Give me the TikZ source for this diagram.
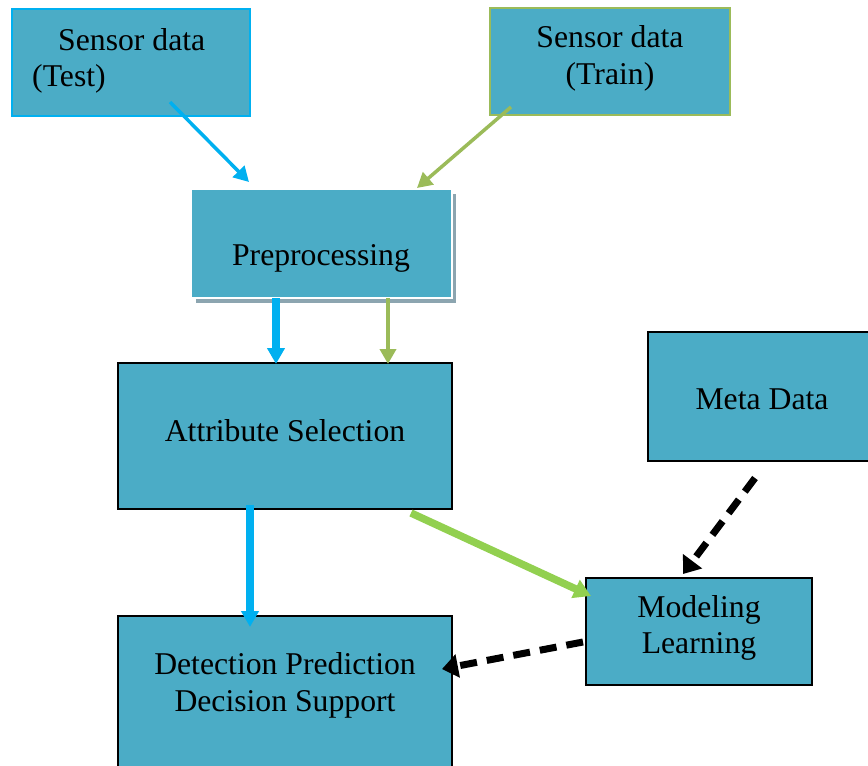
\documentclass[tikz,border=0pt]{standalone}
\usepackage{fontspec}
\setmainfont{Liberation Serif}
\usetikzlibrary{arrows.meta}

\definecolor{boxfill}{RGB}{75,172,198}
\definecolor{skyline}{RGB}{0,176,240}
\definecolor{oliveline}{RGB}{155,187,89}
\definecolor{limeline}{RGB}{146,208,80}
\definecolor{shadowc}{RGB}{140,165,176}

\tikzset{
  box/.style={draw, fill=boxfill, line width=2pt, inner sep=0pt, outer sep=0pt},
  lbl/.style={anchor=base, inner sep=0pt, font=\fontsize{31.7}{36.5}\selectfont},
  lbll/.style={anchor=base west, inner sep=0pt, font=\fontsize{31.7}{36.5}\selectfont},
  thinarrow/.style={line width=3.5pt, -{Triangle[length=15pt,width=16pt]}},
  boldarrow/.style={line width=8pt, -{Triangle[length=16pt,width=17pt]}},
  dasharrow/.style={line width=7pt, black, dash pattern=on 17pt off 10pt,
                    -{Triangle[length=16pt,width=23pt]}},
}

\begin{document}
\begin{tikzpicture}[x=1pt, y=-1pt]
\useasboundingbox (0,0) rectangle (868,766);

% input boxes
\node[box, draw=skyline, minimum width=238pt, minimum height=107pt] (test) at (130.5,62.5) {};
\node[lbll] (testa) at (58,50) {Sensor data};
\node[lbll] (testb) at (32,86) {(Test)};

\node[box, draw=oliveline, minimum width=240pt, minimum height=107pt] (train) at (610,61) {};
\node[lbl] (traina) at (610,47) {Sensor data};
\node[lbl] (trainb) at (610,84) {(Train)};

% preprocessing with its shadow
\fill[shadowc] (196,194) rectangle (456,303);
\node[box, draw=white, minimum width=261pt, minimum height=109pt] (pre) at (321.5,243) {};
\node[lbl] (pretxt) at (321,265) {Preprocessing};

% attribute selection
\node[box, draw=black, minimum width=334pt, minimum height=146pt] (attr) at (285,436) {};
\node[lbl] (attrtxt) at (285,441) {Attribute Selection};

% detection
\node[box, draw=black, minimum width=334pt, minimum height=160pt] (det) at (285,696) {};
\node[lbl] (deta) at (285,674) {Detection Prediction};
\node[lbl] (detb) at (285,711) {Decision Support};

% meta data
\node[box, draw=black, minimum width=240pt, minimum height=129pt] (meta) at (768,396.5) {};
\node[lbl] (metatxt) at (762,409) {Meta Data};

% modeling
\node[box, draw=black, minimum width=226pt, minimum height=107pt] (model) at (699,631) {};
\node[lbl] (modela) at (699,617) {Modeling};
\node[lbl] (modelb) at (699,653) {Learning};

% connector end points
\coordinate (testout) at (170,102);
\coordinate (prein1) at (249,182);
\coordinate (trainout) at (511,107);
\coordinate (prein2) at (417,188);
\coordinate (preout1) at (276,298);
\coordinate (attrin1) at (276,364);
\coordinate (preout2) at (388,298);
\coordinate (attrin2) at (388,364);
\coordinate (attrout1) at (250,505);
\coordinate (detin1) at (250,627);
\coordinate (attrout2) at (411,513);
\coordinate (modelin1) at (591,596);
\coordinate (metaout) at (755,478);
\coordinate (modelin2) at (683,574);
\coordinate (modelout) at (583,642);
\coordinate (detin2) at (442,669);

% connectors
\draw[thinarrow, skyline] (testout) -- (prein1);
\draw[thinarrow, oliveline] (trainout) -- (prein2);
\draw[boldarrow, skyline] (preout1) -- (attrin1);
\draw[line width=4.5pt, oliveline, -{Triangle[length=15pt,width=16pt]}] (preout2) -- (attrin2);
\draw[boldarrow, skyline] (attrout1) -- (detin1);
\draw[line width=7.5pt, limeline, -{Triangle[length=17pt,width=19pt]}] (attrout2) -- (modelin1);
\draw[dasharrow] (metaout) -- (modelin2);
\draw[dasharrow] (modelout) -- (detin2);
\end{tikzpicture}
\end{document}
